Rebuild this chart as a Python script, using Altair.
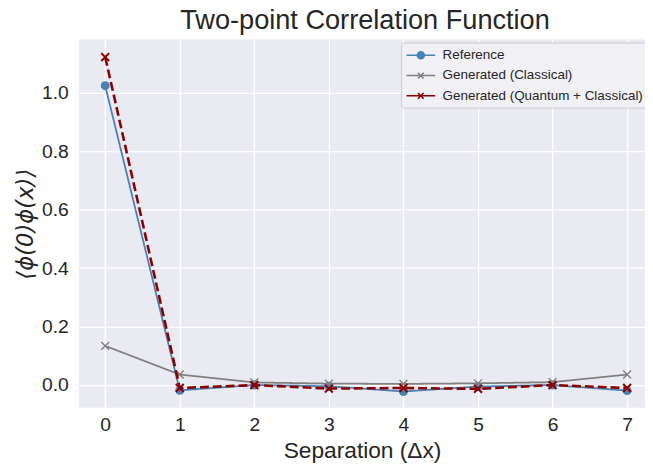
import altair as alt
import pandas as pd

separation = [0, 1, 2, 3, 4, 5, 6, 7]
reference = [1.024, -0.018, 0.0, -0.004, -0.022, -0.005, 0.0, -0.019]
classical = [0.134, 0.036, 0.009, 0.005, 0.004, 0.006, 0.010, 0.036]
quantum = [1.122, -0.010, 0.0, -0.012, -0.010, -0.013, 0.0, -0.010]
series_names = ["Reference", "Generated (Classical)", "Generated (Quantum + Classical)"]
series_colors = ["steelblue", "gray", "darkred"]
y_ticks = [0.0, 0.2, 0.4, 0.6, 0.8, 1.0]

rows = []
for name, vals in zip(series_names, [reference, classical, quantum]):
    for xv, yv in zip(separation, vals):
        rows.append({"series": name, "x": xv, "y": yv})
df = pd.DataFrame(rows)

XPATH = "M-1,-1L1,1M-1,1L1,-1"
legend_paths = [
    "M-2,0H2M-0.5,0A0.5,0.5,0,1,0,0.5,0A0.5,0.5,0,1,0,-0.5,0",
    "M-2,0H2M-0.4,-0.4L0.4,0.4M-0.4,0.4L0.4,-0.4",
    "M-2,0H2M-0.4,-0.4L0.4,0.4M-0.4,0.4L0.4,-0.4",
]

xenc = alt.X("x:Q",
             scale=alt.Scale(domain=[-0.35, 7.24], nice=False, zero=False),
             axis=alt.Axis(values=separation, format="d", title="Separation (Δx)"))
yenc = alt.Y("y:Q",
             scale=alt.Scale(domain=[-0.078, 1.182], nice=False, zero=False),
             axis=alt.Axis(values=y_ticks, format=".1f", title="⟨ϕ(0)ϕ(x)⟩",
                           titleFont="DejaVu Sans", titleFontStyle="italic"))

base = alt.Chart(df)
styles = {
    "Reference": dict(sw=1.8, dash=[1, 0], shape="circle", filled=True, size=81, psw=1),
    "Generated (Classical)": dict(sw=1.8, dash=[1, 0], shape=XPATH, filled=False, size=64, psw=1.4),
    "Generated (Quantum + Classical)": dict(sw=2.6, dash=[9, 4], shape=XPATH, filled=False, size=64, psw=2),
}

legend_spec = alt.Legend(title=None, orient="none", legendX=326, legendY=3)
legend_layer = base.mark_point(opacity=1, strokeWidth=1.5, size=0).encode(
    x=xenc, y=yenc,
    stroke=alt.Stroke("series:N", scale=alt.Scale(domain=series_names, range=series_colors),
                      legend=legend_spec),
    shape=alt.Shape("series:N", scale=alt.Scale(domain=series_names, range=legend_paths),
                    legend=legend_spec),
    fill=alt.Fill("series:N", scale=alt.Scale(domain=series_names,
                                              range=["steelblue", "transparent", "transparent"]),
                  legend=legend_spec),
)
layers = [legend_layer]
for name, col in zip(series_names, series_colors):
    s = styles[name]
    sub = base.transform_filter(alt.datum.series == name)
    layers.append(sub.mark_line(strokeWidth=s["sw"], strokeDash=s["dash"], color=col).encode(x=xenc, y=yenc))
    layers.append(sub.mark_point(shape=s["shape"], filled=s["filled"], size=s["size"], color=col,
                                 strokeWidth=s["psw"], opacity=1).encode(x=xenc, y=yenc))

chart = alt.layer(*layers).properties(
    width=573, height=373,
    title=alt.Title("Two-point Correlation Function", fontSize=27.5, font="Liberation Sans",
                    fontWeight="normal", color="#262626", offset=5, dx=3),
    autosize=alt.AutoSizeParams(type="none"),
    padding={"left": 72, "top": 29, "right": 0, "bottom": 59},
).configure_view(
    fill="#EAEAF2", stroke=None
).configure_axis(
    grid=True, gridColor="white", gridWidth=1.3, domain=False, ticks=False,
    labelFont="Liberation Sans", labelFontSize=19.5, labelColor="#262626",
    titleFont="Liberation Sans", titleFontSize=23, titleColor="#262626", titleFontWeight="normal",
).configure_axisX(labelPadding=8, titlePadding=6).configure_axisY(labelPadding=11, titlePadding=4).configure_legend(
    fillColor="#F0F0F5", strokeColor="#CCCCCC", cornerRadius=3, padding=5,
    labelFont="Liberation Sans", labelFontSize=13.6, labelColor="#262626", labelLimit=400,
    symbolSize=210, symbolStrokeWidth=1.5, rowPadding=5.5, labelOffset=14, symbolOffset=7,
)

chart.save("out.html", embed_options={"renderer": "svg", "actions": False})
